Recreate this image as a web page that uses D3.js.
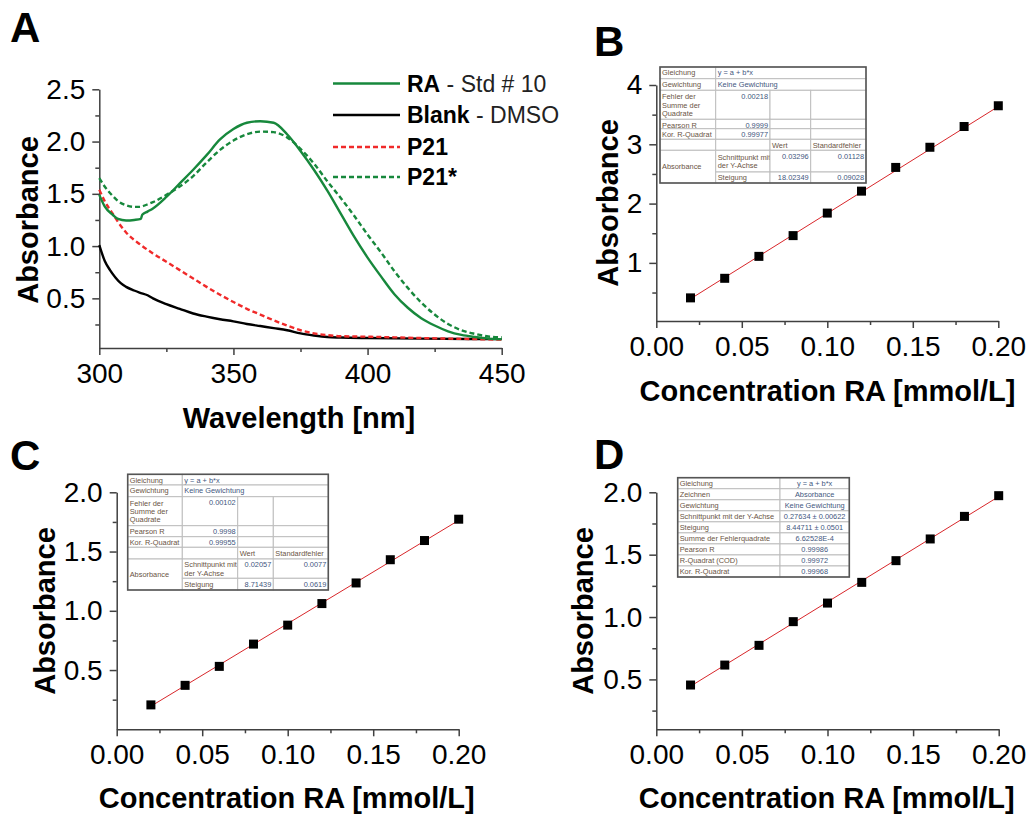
<!DOCTYPE html>
<html>
<head>
<meta charset="utf-8">
<script src="https://cdn.jsdelivr.net/npm/d3@7"></script>
<style>
body { margin: 0; background: #fff; }
text { font-family: "Liberation Sans", Arial, sans-serif; }
</style>
</head>
<body>
<svg id="fig" width="1031" height="818"></svg>
<script>
// ---------- panel A : spectra ----------
var raWl   = [300, 302, 305, 307, 310, 313, 315.5, 316, 318, 320, 325, 330, 335, 340, 345, 350, 355, 360, 365, 370, 375, 380, 385, 390, 395, 400, 405, 410, 415, 420, 425, 430, 435, 440, 445, 450];
var raAbs  = [1.49, 1.38, 1.30, 1.26, 1.245, 1.25, 1.26, 1.30, 1.33, 1.36, 1.47, 1.60, 1.73, 1.87, 2.02, 2.12, 2.18, 2.195, 2.18, 2.07, 1.91, 1.73, 1.53, 1.31, 1.09, 0.89, 0.71, 0.54, 0.41, 0.31, 0.24, 0.185, 0.15, 0.13, 0.115, 0.11];

var p21sWl  = [300, 302, 305, 307, 310, 313, 315, 318, 320, 325, 330, 335, 340, 345, 350, 355, 360, 365, 370, 375, 380, 385, 390, 395, 400, 405, 410, 415, 420, 425, 430, 435, 440, 445, 450];
var p21sAbs = [1.65, 1.57, 1.48, 1.43, 1.39, 1.375, 1.375, 1.40, 1.42, 1.49, 1.57, 1.67, 1.80, 1.92, 2.01, 2.07, 2.095, 2.09, 2.04, 1.93, 1.79, 1.62, 1.46, 1.29, 1.11, 0.94, 0.76, 0.60, 0.46, 0.345, 0.255, 0.195, 0.16, 0.135, 0.127];

var p21Wl  = [300, 302, 305, 307, 310, 315, 320, 325, 330, 335, 340, 345, 350, 355, 360, 365, 370, 375, 380, 385, 390, 400, 410, 420, 430, 440, 450];
var p21Abs = [1.54, 1.43, 1.31, 1.23, 1.13, 1.02, 0.93, 0.85, 0.77, 0.69, 0.61, 0.535, 0.465, 0.40, 0.345, 0.29, 0.24, 0.195, 0.165, 0.148, 0.138, 0.133, 0.127, 0.12, 0.115, 0.11, 0.105];

var blankWl  = [300, 302, 304, 306, 308, 310, 313, 315, 318, 320, 325, 330, 335, 340, 345, 350, 355, 360, 365, 370, 375, 380, 385, 390, 400, 420, 450];
var blankAbs = [1.01, 0.86, 0.77, 0.70, 0.645, 0.61, 0.575, 0.555, 0.53, 0.50, 0.445, 0.40, 0.355, 0.325, 0.30, 0.28, 0.255, 0.235, 0.215, 0.195, 0.165, 0.145, 0.13, 0.125, 0.12, 0.115, 0.11];

// ---------- calibration panels B, C, D ----------
var conc = [0.02, 0.04, 0.06, 0.08, 0.10, 0.12, 0.14, 0.16, 0.18, 0.20];
var absB = [0.41, 0.74, 1.11, 1.46, 1.84, 2.21, 2.61, 2.95, 3.30, 3.65];
var absC = [0.206, 0.371, 0.531, 0.719, 0.879, 1.061, 1.235, 1.431, 1.593, 1.773];
var absD = [0.455, 0.615, 0.773, 0.963, 1.112, 1.278, 1.452, 1.626, 1.807, 1.973];

var fitB = { a: 0.03296, b: 18.02349 };
var fitC = { a: 0.02057, b: 8.71439 };
var fitD = { a: 0.27634, b: 8.44711 };

// fit report tables (German, as exported)
var tableB = [
  [0,0,1,1,"Gleichung"], [0,1,1,3,"y = a + b*x"],
  [1,0,1,1,"Gewichtung"], [1,1,1,3,"Keine Gewichtung"],
  [2,0,1,1,"Fehler der\nSumme der\nQuadrate"], [2,1,1,1,"0.00218","r"], [2,2,1,1,""], [2,3,1,1,""],
  [3,0,1,1,"Pearson R"], [3,1,1,1,"0.9999","r"], [3,2,1,1,""], [3,3,1,1,""],
  [4,0,1,1,"Kor. R-Quadrat"], [4,1,1,1,"0.99977","r"], [4,2,1,1,""], [4,3,1,1,""],
  [5,0,1,1,""], [5,1,1,1,""], [5,2,1,1,"Wert"], [5,3,1,1,"Standardfehler"],
  [6,0,2,1,"Absorbance"], [6,1,1,1,"Schnittpunkt mit\nder Y-Achse"], [6,2,1,1,"0.03296","r"], [6,3,1,1,"0.01128","r"],
  [7,1,1,1,"Steigung"], [7,2,1,1,"18.02349","r"], [7,3,1,1,"0.09028","r"]
];
var tableC = [
  [0,0,1,1,"Gleichung"], [0,1,1,3,"y = a + b*x"],
  [1,0,1,1,"Gewichtung"], [1,1,1,3,"Keine Gewichtung"],
  [2,0,1,1,"Fehler der\nSumme der\nQuadrate"], [2,1,1,1,"0.00102","r"], [2,2,1,1,""], [2,3,1,1,""],
  [3,0,1,1,"Pearson R"], [3,1,1,1,"0.9998","r"], [3,2,1,1,""], [3,3,1,1,""],
  [4,0,1,1,"Kor. R-Quadrat"], [4,1,1,1,"0.99955","r"], [4,2,1,1,""], [4,3,1,1,""],
  [5,0,1,1,""], [5,1,1,1,""], [5,2,1,1,"Wert"], [5,3,1,1,"Standardfehler"],
  [6,0,2,1,"Absorbance"], [6,1,1,1,"Schnittpunkt mit\nder Y-Achse"], [6,2,1,1,"0.02057","r"], [6,3,1,1,"0.0077","r"],
  [7,1,1,1,"Steigung"], [7,2,1,1,"8.71439","r"], [7,3,1,1,"0.0619","r"]
];
var tableDLabels = ["Gleichung", "Zeichnen", "Gewichtung", "Schnittpunkt mit der Y-Achse", "Steigung",
  "Summe der Fehlerquadrate", "Pearson R", "R-Quadrat (COD)", "Kor. R-Quadrat"];
var tableDValues = ["y = a + b*x", "Absorbance", "Keine Gewichtung", "0.27634 \u00b1 0.00622", "8.44711 \u00b1 0.0501",
  "6.62528E-4", "0.99986", "0.99972", "0.99968"];

var svg = d3.select("#fig");
var green = "#17883c", red = "#f02a2a", axisCol = "#404040";

function drawAxes(x, y, o) {
  var g = svg.append("g");
  var y0 = y.range()[0], x0 = x.range()[0];
  var xa = g.append("g").attr("transform", "translate(0," + y0 + ")")
    .call(d3.axisBottom(x).tickValues(o.xt).tickFormat(o.xf).tickSize(7).tickSizeOuter(0));
  xa.selectAll("text").attr("y", 34.5).attr("dy", null).style("font-size", "28px").attr("fill", "#000");
  var xm = g.append("g").attr("transform", "translate(0," + y0 + ")")
    .call(d3.axisBottom(x).tickValues(o.xm).tickFormat("").tickSize(4));
  xm.select(".domain").remove();
  var ya = g.append("g").attr("transform", "translate(" + x0 + ",0)")
    .call(d3.axisLeft(y).tickValues(o.yt).tickFormat(o.yf).tickSize(7).tickPadding(7).tickSizeOuter(0));
  ya.selectAll("text").style("font-size", "28px").attr("fill", "#000");
  var ym = g.append("g").attr("transform", "translate(" + x0 + ",0)")
    .call(d3.axisLeft(y).tickValues(o.ym).tickFormat("").tickSize(4));
  ym.select(".domain").remove();
  g.selectAll("path.domain, line").attr("stroke", axisCol).attr("stroke-width", 1.5);
  // titles
  svg.append("text").attr("x", o.xtPos[0]).attr("y", o.xtPos[1]).attr("text-anchor", "middle")
    .style("font-size", "29px").style("font-weight", "bold").text(o.xTitle);
  svg.append("text").attr("transform", "translate(" + o.ytPos[0] + "," + o.ytPos[1] + ") rotate(-90)")
    .attr("text-anchor", "middle").style("font-size", "29px").style("font-weight", "bold").text("Absorbance");
}

function panelLabel(t, x, y) {
  svg.append("text").attr("x", x).attr("y", y).style("font-size", "42px").style("font-weight", "bold").text(t);
}

// ---------- A ----------
var xA = d3.scaleLinear().domain([300, 450]).range([99.3, 501.7]);
var yA = d3.scaleLinear().domain([0.025, 2.5]).range([348, 89.3]);
drawAxes(xA, yA, {
  xt: [300, 350, 400, 450], xm: [325, 375, 425], xf: d3.format("d"),
  yt: [0.5, 1.0, 1.5, 2.0, 2.5], ym: [0.25, 0.75, 1.25, 1.75, 2.25], yf: d3.format(".1f"),
  xTitle: "Wavelength [nm]", xtPos: [299, 428], ytPos: [37.5, 220]
});
var specs = [
  { wl: blankWl, v: blankAbs, col: "#000", dash: null },
  { wl: p21Wl, v: p21Abs, col: red, dash: "5,3" },
  { wl: p21sWl, v: p21sAbs, col: green, dash: "5,3" },
  { wl: raWl, v: raAbs, col: green, dash: null }
];
var lineA = d3.line().x(function (d) { return xA(d[0]); }).y(function (d) { return yA(d[1]); })
  .curve(d3.curveMonotoneX);
specs.forEach(function (s) {
  svg.append("path").datum(d3.zip(s.wl, s.v)).attr("d", lineA).attr("fill", "none")
    .attr("stroke", s.col).attr("stroke-width", 2.4).attr("stroke-dasharray", s.dash);
});
// legend
var legend = [
  { b: "RA", r: " - Std # 10", col: green, dash: null },
  { b: "Blank", r: " - DMSO", col: "#000", dash: null },
  { b: "P21", r: "", col: red, dash: "5,3" },
  { b: "P21*", r: "", col: green, dash: "5,3" }
];
var legY = [91.5, 123, 155, 185];
legend.forEach(function (l, i) {
  svg.append("line").attr("x1", 333).attr("x2", 400).attr("y1", legY[i] - 8).attr("y2", legY[i] - 8)
    .attr("stroke", l.col).attr("stroke-width", 2.4).attr("stroke-dasharray", l.dash);
  var t = svg.append("text").attr("x", 407).attr("y", legY[i]).style("font-size", "23px");
  t.append("tspan").style("font-weight", "bold").text(l.b);
  t.append("tspan").style("fill", "#222").text(l.r);
});
panelLabel("A", 10, 42);

// ---------- calibration helper ----------
function calib(x, y, vals, fit, o) {
  drawAxes(x, y, o);
  svg.append("line").attr("x1", x(conc[0])).attr("x2", x(conc[conc.length - 1]))
    .attr("y1", y(fit.a + fit.b * conc[0])).attr("y2", y(fit.a + fit.b * conc[conc.length - 1]))
    .attr("stroke", "#d8262a").attr("stroke-width", 1);
  svg.append("g").selectAll("rect").data(d3.zip(conc, vals)).join("rect")
    .attr("x", function (d) { return x(d[0]) - 4.5; }).attr("y", function (d) { return y(d[1]) - 4.5; })
    .attr("width", 9).attr("height", 9).attr("fill", "#000");
}

function drawTable(cells, cols, rows) {
  var g = svg.append("g");
  cells.forEach(function (c) {
    var x0 = cols[c[1]], x1 = cols[c[1] + c[3]], y0 = rows[c[0]], y1 = rows[c[0] + c[2]];
    g.append("rect").attr("x", x0).attr("y", y0).attr("width", x1 - x0).attr("height", y1 - y0)
      .attr("fill", "#fff").attr("stroke", "#bdbdbd").attr("stroke-width", 1);
    var lines = c[4].split("\n");
    var right = c[5] === "r";
    var isNum = /^[0-9]/.test(c[4]);
    var by = (lines.length > 1 || c[2] > 1) ? (y0 + y1) / 2 - (lines.length - 1) * 4.15 + 2.7 : y0 + 8.3;
    var t = g.append("text").attr("x", right ? x1 - 2 : x0 + 2).attr("y", by)
      .attr("text-anchor", right ? "end" : "start").style("font-size", "7.4px")
      .attr("fill", isNum || c[0] < 2 && c[1] > 0 ? "#3f577e" : "#6a5444");
    lines.forEach(function (ln, i) {
      t.append("tspan").attr("x", right ? x1 - 2 : x0 + 2).attr("dy", i ? 8.3 : 0).text(ln);
    });
  });
  g.append("rect").attr("x", cols[0]).attr("y", rows[0]).attr("width", cols[cols.length - 1] - cols[0])
    .attr("height", rows[rows.length - 1] - rows[0]).attr("fill", "none").attr("stroke", "#555").attr("stroke-width", 1.6);
}

var concTicks = { xt: [0, 0.05, 0.10, 0.15, 0.20], xm: [0.025, 0.075, 0.125, 0.175], xf: d3.format(".2f") };

// ---------- B ----------
var xB = d3.scaleLinear().domain([0, 0.2]).range([656.3, 998.3]);
var yB = d3.scaleLinear().domain([0.02, 4]).range([321, 85]);
calib(xB, yB, absB, fitB, Object.assign({
  yt: [1, 2, 3, 4], ym: [0.5, 1.5, 2.5, 3.5], yf: d3.format("d"),
  xTitle: "Concentration RA [mmol/L]", xtPos: [827.5, 401], ytPos: [618, 203]
}, concTicks));
drawTable(tableB, [660, 715.7, 770, 810.7, 866], [67, 78.7, 90.3, 119.3, 128.7, 139.3, 150.3, 172, 183]);
panelLabel("B", 594, 56);

// ---------- C ----------
var xC = d3.scaleLinear().domain([0, 0.2]).range([116.7, 458.7]);
var yC = d3.scaleLinear().domain([0, 2]).range([729.3, 492.3]);
calib(xC, yC, absC, fitC, Object.assign({
  yt: [0.5, 1.0, 1.5, 2.0], ym: [0.25, 0.75, 1.25, 1.75], yf: d3.format(".1f"),
  xTitle: "Concentration RA [mmol/L]", xtPos: [286.7, 808], ytPos: [55, 611]
}, concTicks));
drawTable(tableC, [127.7, 182.3, 237.7, 273.3, 328.3], [474.3, 485, 496.7, 525.7, 536.7, 547.3, 559, 578.3, 590]);
panelLabel("C", 10, 470);

// ---------- D ----------
var xD = d3.scaleLinear().domain([0, 0.2]).range([656.3, 998.7]);
var yD = d3.scaleLinear().domain([0.1, 2]).range([729.3, 492.3]);
calib(xD, yD, absD, fitD, Object.assign({
  yt: [0.5, 1.0, 1.5, 2.0], ym: [0.25, 0.75, 1.25, 1.75], yf: d3.format(".1f"),
  xTitle: "Concentration RA [mmol/L]", xtPos: [826.7, 808], ytPos: [593, 611]
}, concTicks));
(function () {
  var cols = [677.7, 780, 849.3], top = 477.7, rh = (577 - 477.7) / 9;
  var g = svg.append("g");
  tableDLabels.forEach(function (lab, i) {
    var y0 = top + i * rh;
    g.append("rect").attr("x", cols[0]).attr("y", y0).attr("width", cols[1] - cols[0]).attr("height", rh)
      .attr("fill", "#fff").attr("stroke", "#bdbdbd");
    g.append("rect").attr("x", cols[1]).attr("y", y0).attr("width", cols[2] - cols[1]).attr("height", rh)
      .attr("fill", "#fff").attr("stroke", "#bdbdbd");
    g.append("text").attr("x", cols[0] + 2).attr("y", y0 + 8).style("font-size", "7.4px").attr("fill", "#6a5444").text(lab);
    g.append("text").attr("x", (cols[1] + cols[2]) / 2).attr("y", y0 + 8).attr("text-anchor", "middle")
      .style("font-size", "7.4px").attr("fill", "#3f577e").text(tableDValues[i]);
  });
  g.append("rect").attr("x", cols[0]).attr("y", top).attr("width", cols[2] - cols[0]).attr("height", 9 * rh)
    .attr("fill", "none").attr("stroke", "#555").attr("stroke-width", 1.6);
})();
panelLabel("D", 594, 469);
</script>
</body>
</html>
